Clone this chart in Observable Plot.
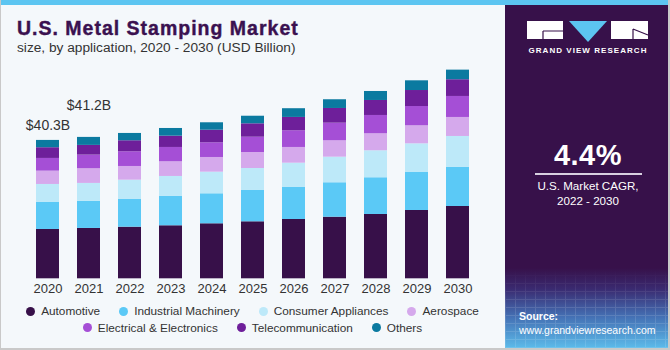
<!DOCTYPE html>
<html><head><meta charset="utf-8">
<script src="https://cdn.jsdelivr.net/npm/d3@7"></script>
<script src="https://cdn.jsdelivr.net/npm/@observablehq/plot@0.6"></script>
<style>
body{margin:0;background:#fff;}
#wrap{position:relative;width:670px;height:350px;overflow:hidden;background:#f4f8fb;font-family:"Liberation Sans",Arial,sans-serif;box-sizing:border-box;border-left:1px solid #c9c9c9;border-right:2px solid #c9c9c9;border-bottom:2px solid #c9c9c9;}
#stripe{position:absolute;left:0;top:0;width:670px;height:5px;background:#5cc5f1;z-index:3;}
#title{position:absolute;left:16px;top:19px;font-size:19.5px;line-height:1;font-weight:700;letter-spacing:1px;color:#3a1150;white-space:nowrap;-webkit-text-stroke:0.4px #3a1150;}
#subtitle{position:absolute;left:16px;top:41px;font-size:13.7px;line-height:1;color:#333;white-space:nowrap;}
#chart{position:absolute;left:-1px;top:55px;}
#legend{position:absolute;left:-1px;top:303px;width:505px;font-size:11.8px;color:#333;}
.lrow{display:flex;justify-content:center;height:16.6px;align-items:center;}
.litem{display:flex;align-items:center;margin:0 9.5px;white-space:nowrap;}
.ldot{width:9px;height:9px;border-radius:50%;margin-right:6px;}
#panel{position:absolute;left:504px;top:0;width:166px;height:348px;color:#fff;text-align:center;
 background:linear-gradient(to bottom,#37114a 0%,#37114a 77%,#3a2a70 83%,#4470b4 91%,#5cbbea 100%);}
#grid{position:absolute;left:0;top:270px;width:166px;height:78px;opacity:0.12;
 background-image:repeating-linear-gradient(0deg,#fff 0 1px,transparent 1px 8px),repeating-linear-gradient(90deg,#fff 0 1px,transparent 1px 10px);
 -webkit-mask-image:linear-gradient(to bottom,transparent 0%,#000 45%);}
#logo{position:absolute;left:22px;top:20px;}
#gvr{position:absolute;left:0;width:166px;top:46px;font-size:8px;font-weight:700;letter-spacing:1.05px;color:#fff;}
#cagr{position:absolute;left:0;width:166px;top:141px;font-size:29px;font-weight:700;line-height:1;letter-spacing:0.5px;}
#rule{position:absolute;left:30px;top:173px;width:107px;height:1.5px;background:#d8d0e0;}
#cagrt{position:absolute;left:0;width:166px;top:178px;font-size:11.6px;line-height:15px;}
#src{position:absolute;left:14px;top:309px;text-align:left;font-size:10.5px;line-height:14px;}
</style></head><body>
<div id="wrap">
 <div id="stripe"></div>
 <div id="title">U.S. Metal Stamping Market</div>
 <div id="subtitle">size, by application, 2020 - 2030 (USD Billion)</div>
 <div id="chart"></div>
 <div id="legend"></div>
 <div id="panel">
  <div id="grid"></div>
  <svg id="logo" width="122" height="22" viewBox="0 0 122 22">
   <rect x="0" y="1" width="36" height="18" fill="#fff"/>
   <path d="M16 11 H36 M16 11 V19" stroke="#37114a" stroke-width="1.2" fill="none"/>
   <polygon points="42,1 80,1 61,22" fill="#5cc5f1"/>
   <rect x="84" y="1" width="37" height="18" fill="#fff"/>
   <path d="M106 9 L121 15 M106 9 V19" stroke="#37114a" stroke-width="1.2" fill="none"/>
  </svg>
  <div id="gvr">GRAND VIEW RESEARCH</div>
  <div id="cagr">4.4%</div>
  <div id="rule"></div>
  <div id="cagrt">U.S. Market CAGR,<br>2022 - 2030</div>
  <div id="src"><b>Source:</b><br>www.grandviewresearch.com</div>
 </div>
</div>
<script>
const years = ["2020","2021","2022","2023","2024","2025","2026","2027","2028","2029","2030"];
const series = ["Automotive","Industrial Machinery","Consumer Appliances","Aerospace","Electrical & Electronics","Telecommunication","Others"];
const automotive = [14.37, 14.67, 15.04, 15.45, 16.03, 16.61, 17.28, 17.95, 18.74, 19.90, 21.07];
const industrial = [7.87, 7.87, 8.16, 8.54, 8.74, 9.21, 9.33, 10.03, 10.70, 11.07, 11.37];
const consumer   = [5.25, 5.25, 5.54, 5.83, 6.30, 6.32, 7.08, 7.46, 7.87, 8.36, 9.03];
const aerospace  = [3.88, 4.28, 3.99, 4.28, 4.28, 4.66, 4.58, 4.78, 4.95, 5.25, 5.54];
const electrical = [3.70, 3.97, 4.28, 4.17, 4.28, 4.46, 4.87, 5.13, 5.33, 5.62, 6.12];
const telecom    = [3.12, 2.83, 3.21, 3.29, 3.67, 3.90, 3.88, 4.28, 4.37, 4.66, 4.87];
const others     = [2.13, 2.33, 2.13, 2.24, 2.16, 2.21, 2.54, 2.54, 2.62, 2.83, 2.80];
const colors = ["#371049","#5bc9f6","#bde9f9","#d5a9ec","#a54fd6","#6e1f9a","#0b7aa0"];
const labelYears = ["2020","2021"];
const labelTexts = ["$40.3B","$41.2B"];

const valueArrays = [automotive, industrial, consumer, aerospace, electrical, telecom, others];
const data = [];
years.forEach((yr, i) => series.forEach((s, j) => data.push({year: yr, series: s, value: valueArrays[j][i]})));
const totals = years.map((yr, i) => d3.sum(valueArrays, a => a[i]));
const labels = labelYears.map((yr, k) => ({year: yr, total: totals[years.indexOf(yr)], text: labelTexts[k]}));

const chart = Plot.plot({
  width: 505, height: 245,
  marginLeft: 13, marginRight: 12, marginTop: 10, marginBottom: 21.7,
  style: {background: "transparent", fontFamily: "Liberation Sans, Arial, sans-serif", fontSize: "13px", color: "#333"},
  x: {type: "band", domain: years, padding: 0.43, tickSize: 0, tickPadding: 5, label: null},
  y: {domain: [0, 62.15], axis: null},
  color: {domain: series, range: colors},
  marks: [
    Plot.barY(data, {x: "year", y: "value", fill: "series", order: series}),
    Plot.text(labels.slice(0,1), {x: "year", y: "total", text: "text", dy: -15, fontSize: 14, fill: "#333"}),
    Plot.text(labels.slice(1,2), {x: "year", y: "total", text: "text", dy: -32, fontSize: 14, fill: "#333"})
  ]
});
document.getElementById("chart").appendChild(chart);

const legend = document.getElementById("legend");
[series.slice(0,4), series.slice(4)].forEach(row => {
  const r = document.createElement("div"); r.className = "lrow";
  row.forEach(s => {
    const it = document.createElement("div"); it.className = "litem";
    const dot = document.createElement("span"); dot.className = "ldot"; dot.style.background = colors[series.indexOf(s)];
    const t = document.createElement("span"); t.textContent = s;
    it.appendChild(dot); it.appendChild(t); r.appendChild(it);
  });
  legend.appendChild(r);
});
</script>
</body></html>
